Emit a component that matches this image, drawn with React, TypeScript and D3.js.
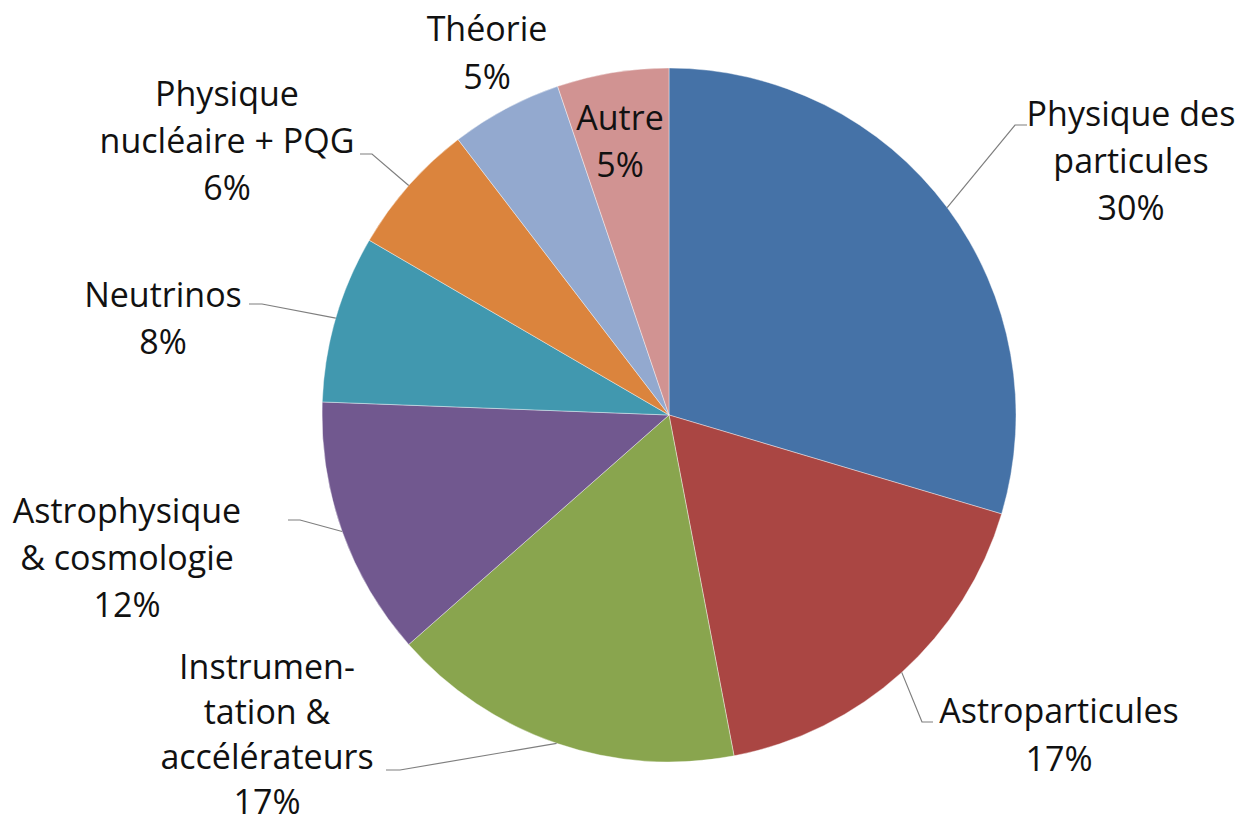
import React from "react";
import * as d3 from "d3";

const categories = [
  "Physique des particules",
  "Astroparticules",
  "Instrumentation & accélérateurs",
  "Astrophysique & cosmologie",
  "Neutrinos",
  "Physique nucléaire + PQG",
  "Théorie",
  "Autre",
];
const shares = [29.6, 17.4, 16.5, 12.1, 7.8, 6.2, 5.2, 5.2];
const labelLines = [
  ["Physique des", "particules"],
  ["Astroparticules"],
  ["Instrumen-", "tation &", "accélérateurs"],
  ["Astrophysique", "& cosmologie"],
  ["Neutrinos"],
  ["Physique", "nucléaire + PQG"],
  ["Théorie"],
  ["Autre"],
];
const colors = ["#4572A7", "#AA4643", "#89A54E", "#71588F", "#4198AF", "#DB843D", "#93A9CF", "#D19392"];

// label layout: text centre x, first baseline y, line height, leader elbow and end (null = no leader)
const labelLayout = [
  { x: 1131, y: 126, lh: 47, elbow: [1015, 125], end: [1027, 125] },
  { x: 1059, y: 723, lh: 48, elbow: [922, 722], end: [933, 722] },
  { x: 267, y: 679, lh: 45, elbow: [400, 770], end: [386, 770] },
  { x: 127, y: 523, lh: 47, elbow: [300, 520], end: [288, 520] },
  { x: 163, y: 307, lh: 47, elbow: [262, 304], end: [249, 304] },
  { x: 227, y: 106, lh: 47, elbow: [372, 154], end: [360, 154] },
  { x: 487, y: 41, lh: 48, elbow: null, end: null },
  { x: 620, y: 130, lh: 47, elbow: null, end: null },
];

const W = 1243;
const H = 825;
const CX = 669;
const CY = 415;
const R = 347;

export default function App() {
  const pie = d3
    .pie<number>()
    .sort(null)
    .value((d) => d)
    .startAngle(0)
    .endAngle(2 * Math.PI);
  const arcs = pie(shares);
  const arc = d3.arc<d3.PieArcDatum<number>>().innerRadius(0).outerRadius(R);
  const pct = (v: number) => `${Math.round(v)}%`;

  return (
    <svg
      width={W}
      height={H}
      style={{ position: "absolute", left: 0, top: 0, background: "#fff" }}
      fontFamily="'Open Sans', 'Noto Sans', sans-serif"
    >
      <g transform={`translate(${CX},${CY})`}>
        {arcs.map((a, i) => (
          <path
            key={categories[i]}
            d={arc(a) || ""}
            fill={colors[i]}
            stroke="#ffffff"
            strokeOpacity={0.5}
            strokeWidth={0.8}
          />
        ))}
      </g>
      {arcs.map((a, i) => {
        const L = labelLayout[i];
        if (!L.elbow || !L.end) return null;
        const mid = (a.startAngle + a.endAngle) / 2;
        const sx = CX + R * Math.sin(mid);
        const sy = CY - R * Math.cos(mid);
        const path = d3.path();
        path.moveTo(sx, sy);
        path.lineTo(L.elbow[0], L.elbow[1]);
        path.lineTo(L.end[0], L.end[1]);
        return (
          <path
            key={"l" + i}
            d={path.toString()}
            fill="none"
            stroke="#7f7f7f"
            strokeWidth={1.2}
          />
        );
      })}
      {arcs.map((a, i) => {
        const L = labelLayout[i];
        const lines = [...labelLines[i], pct(a.value)];
        return (
          <text key={"t" + i} textAnchor="middle" fontSize={34} fill="#111">
            {lines.map((s, j) => (
              <tspan key={j} x={L.x} y={L.y + j * L.lh}>
                {s}
              </tspan>
            ))}
          </text>
        );
      })}
    </svg>
  );
}
